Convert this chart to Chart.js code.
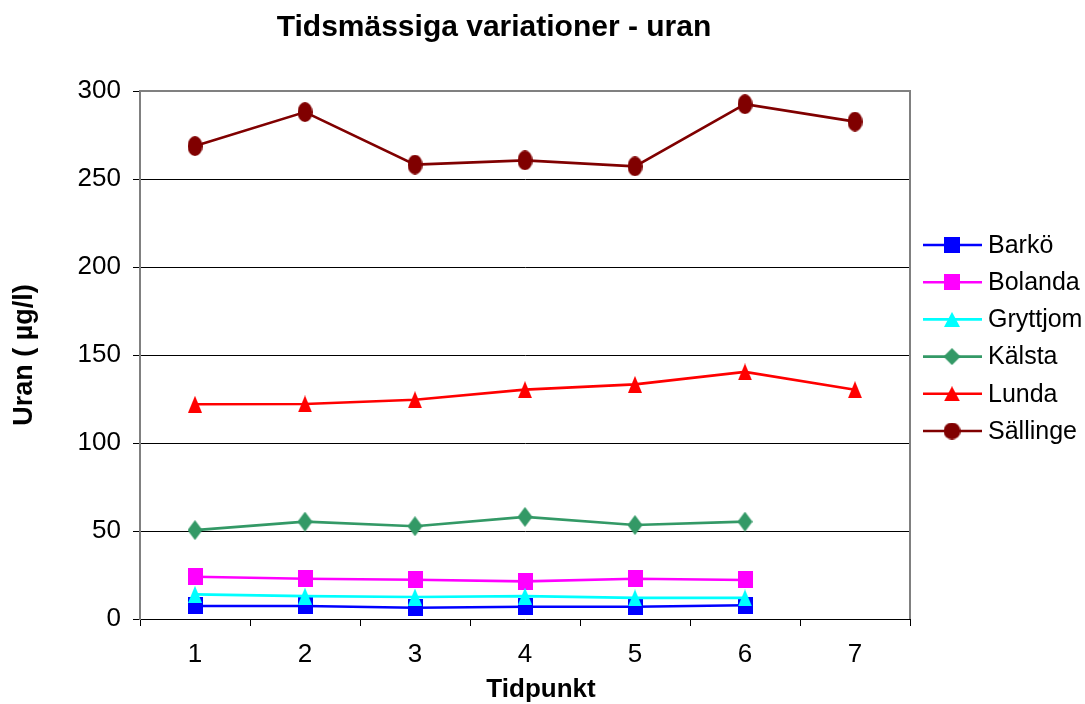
<!DOCTYPE html>
<html>
<head>
<meta charset="utf-8">
<script src="https://cdn.jsdelivr.net/npm/chart.js@4.4.1/dist/chart.umd.min.js"></script>
<style>
  html, body { margin: 0; padding: 0; background: #fff; }
  #wrap { width: 1085px; height: 704px; }
</style>
</head>
<body>
<div id="wrap"><canvas id="uranChart" width="1085" height="704"></canvas></div>
<script>
const categories = ['1', '2', '3', '4', '5', '6', '7'];
const yTicks = [0, 50, 100, 150, 200, 250, 300];

const barko    = [7.4, 7.4, 6.4, 7.0, 7.0, 7.8, null];
const bolanda  = [24.0, 22.9, 22.3, 21.4, 22.9, 22.2, null];
const gryttjom = [14.0, 13.0, 12.5, 13.0, 12.0, 12.0, null];
const kalsta   = [50.5, 55.3, 52.7, 58.0, 53.4, 55.3, null];
const lunda    = [122, 122.2, 124.6, 130.3, 133.3, 140.4, 130.3];
const sallinge = [268.7, 288, 258.2, 260.6, 257.2, 292.5, 282.6];

const seriesNames = ['Barkö', 'Bolanda', 'Gryttjom', 'Kälsta', 'Lunda', 'Sällinge'];

const FONT = "'Liberation Sans', Arial, sans-serif";

// marker bitmaps (Excel stretched them a bit vertically in the plot)
function makeMarker(shape, color, w, h) {
    const c = document.createElement('canvas');
    c.width = w;
    c.height = h;
    const g = c.getContext('2d');
    g.fillStyle = color;
    g.beginPath();
    if (shape === 'square') {
        g.rect(0, 0, w, h);
    } else if (shape === 'triangle') {
        g.moveTo(w / 2, 0); g.lineTo(w, h); g.lineTo(0, h); g.closePath();
    } else if (shape === 'diamond') {
        g.moveTo(w / 2, 0); g.lineTo(w, h / 2); g.lineTo(w / 2, h); g.lineTo(0, h / 2); g.closePath();
    } else {
        g.ellipse(w / 2, h / 2, w / 2, h / 2, 0, 0, Math.PI * 2);
    }
    g.fill();
    return c;
}

const styles = [
    { color: '#0000FF', shape: 'square',   w: 15, h: 17, lw: 16, lh: 16 },
    { color: '#FF00FF', shape: 'square',   w: 15, h: 17, lw: 16, lh: 16 },
    { color: '#00FFFF', shape: 'triangle', w: 14, h: 17, lw: 16, lh: 15 },
    { color: '#339966', shape: 'diamond',  w: 15, h: 20, lw: 17, lh: 17 },
    { color: '#FF0000', shape: 'triangle', w: 14, h: 17, lw: 16, lh: 15 },
    { color: '#800000', shape: 'circle',   w: 15, h: 20, lw: 17, lh: 17 }
];
const seriesValues = [barko, bolanda, gryttjom, kalsta, lunda, sallinge];

const datasets = seriesNames.map((name, i) => ({
    label: name,
    data: seriesValues[i],
    borderColor: styles[i].color,
    backgroundColor: styles[i].color,
    borderWidth: 2.6,
    pointStyle: makeMarker(styles[i].shape, styles[i].color, styles[i].w, styles[i].h),
    pointRadius: 8,
    spanGaps: false,
    tension: 0,
    order: seriesNames.length - i
}));

const decorations = {
    id: 'decorations',
    beforeDatasetsDraw(chart) {
        const { ctx, chartArea: a } = chart;
        ctx.save();
        ctx.strokeStyle = '#808080';
        ctx.lineWidth = 2;
        ctx.beginPath();
        ctx.moveTo(a.left, a.top);
        ctx.lineTo(a.right, a.top);
        ctx.lineTo(a.right, a.bottom);
        ctx.stroke();
        ctx.restore();
    },
    afterDraw(chart) {
        const { ctx } = chart;
        ctx.save();
        // title
        ctx.fillStyle = '#000';
        ctx.font = 'bold 30px ' + FONT;
        ctx.textAlign = 'center';
        ctx.textBaseline = 'alphabetic';
        ctx.fillText('Tidsmässiga variationer - uran', 494, 36);

        // x axis title, a bit right of centre as in the original
        ctx.font = 'bold 26px ' + FONT;
        ctx.textBaseline = 'middle';
        ctx.fillText('Tidpunkt', 541, 690);

        // legend: line through marker, like Excel
        ctx.font = '25px ' + FONT;
        ctx.textAlign = 'left';
        seriesNames.forEach((name, i) => {
            const y = 245 + i * 37.2;
            const s = styles[i];
            ctx.strokeStyle = s.color;
            ctx.lineWidth = 2.6;
            ctx.beginPath();
            ctx.moveTo(923, y);
            ctx.lineTo(982, y);
            ctx.stroke();
            const m = makeMarker(s.shape, s.color, s.lw, s.lh);
            ctx.drawImage(m, 952 - s.lw / 2, y - s.lh / 2);
            ctx.fillStyle = '#000';
            ctx.fillText(name, 988, y + 1);
        });
        ctx.restore();
    }
};

new Chart(document.getElementById('uranChart'), {
    type: 'line',
    data: { labels: categories, datasets: datasets },
    options: {
        responsive: false,
        animation: false,
        layout: { padding: { top: 91, right: 175, bottom: 0, left: 0 } },
        plugins: {
            legend: { display: false },
            title: { display: false },
            tooltip: { enabled: false }
        },
        scales: {
            x: {
                type: 'category',
                offset: true,
                afterFit: scale => { scale.height = 85; },
                grid: {
                    offset: true,
                    drawOnChartArea: false,
                    drawTicks: true,
                    tickLength: 7,
                    tickColor: '#000',
                    tickWidth: 1
                },
                border: { color: '#000', width: 1 },
                ticks: { color: '#000', font: { family: FONT, size: 26 }, padding: 13, maxRotation: 0 },
                title: { display: false }
            },
            y: {
                min: 0,
                max: 300,
                afterFit: scale => { scale.width = 140; },
                afterBuildTicks: scale => { scale.ticks = yTicks.map(v => ({ value: v })); },
                grid: {
                    color: c => (c.tick && (c.tick.value === 0 || c.tick.value === 300)) ? 'rgba(0,0,0,0)' : '#000',
                    lineWidth: 1,
                    tickLength: 7,
                    tickColor: '#000',
                    tickWidth: 1
                },
                border: { color: '#808080', width: 2 },
                ticks: { color: '#000', font: { family: FONT, size: 26 }, padding: 12 },
                title: {
                    display: true,
                    text: 'Uran ( µg/l)',
                    color: '#000',
                    font: { family: FONT, size: 27, weight: 'bold' },
                    padding: { top: 8, bottom: 0 }
                }
            }
        }
    },
    plugins: [decorations]
});
</script>
</body>
</html>
